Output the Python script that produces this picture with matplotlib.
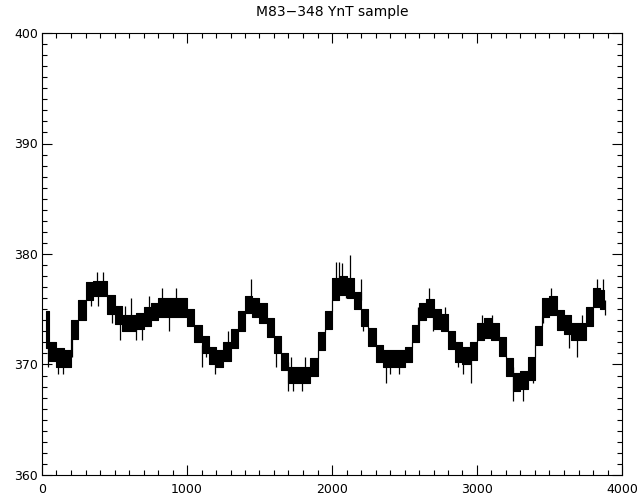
import matplotlib
matplotlib.use("Agg")
import matplotlib.pyplot as plt
import numpy as np
from matplotlib.ticker import MultipleLocator

# band of the sample trace in 50-sample bins
bin_x = np.arange(25, 3900, 50)
band_lo = [371.5, 370.3, 369.8, 369.8, 372.3, 374.0, 375.8, 376.2, 376.2, 374.6,
           373.7, 373.0, 373.0, 373.2, 373.5, 374.0, 374.3, 374.3, 374.3, 374.3,
           373.5, 372.0, 371.0, 370.0, 369.8, 370.3, 371.5, 373.0, 374.7, 374.3,
           373.8, 372.5, 371.0, 369.5, 368.3, 368.3, 368.3, 369.0, 371.3, 373.2,
           375.8, 376.3, 376.0, 375.0, 373.5, 371.7, 370.2, 369.8, 369.8, 369.8,
           370.2, 372.0, 374.0, 374.3, 373.2, 373.0, 371.4, 370.2, 370.0, 370.4,
           372.2, 372.4, 372.2, 370.8, 369.0, 367.6, 367.8, 368.6, 371.8, 374.3,
           374.5, 373.1, 372.8, 372.2, 372.2, 373.5, 375.2, 375.0]
band_hi = [374.8, 372.0, 371.5, 371.3, 374.0, 375.8, 377.5, 377.6, 377.6, 376.3,
           375.3, 374.5, 374.5, 374.7, 375.2, 375.6, 376.0, 376.0, 376.0, 376.0,
           375.0, 373.6, 372.6, 371.6, 371.3, 372.0, 373.2, 374.8, 376.2, 376.0,
           375.6, 374.2, 372.6, 371.0, 369.8, 369.8, 369.8, 370.6, 372.9, 374.8,
           377.8, 378.0, 377.8, 376.6, 375.0, 373.3, 371.8, 371.3, 371.3, 371.3,
           371.6, 373.6, 375.6, 375.9, 375.0, 374.6, 373.0, 372.0, 371.6, 372.0,
           373.8, 374.2, 373.8, 372.5, 370.6, 369.2, 369.4, 370.7, 373.5, 376.0,
           376.2, 374.9, 374.5, 373.8, 373.8, 375.2, 376.9, 376.7]

# single-sample excursions (sample, tip value)
spike_x = [39, 108, 147, 207, 338, 379, 384, 418, 483, 538, 575, 614, 648, 690,
           740, 828, 878, 924, 1103, 1131, 1193, 1280, 1395, 1441, 1614, 1699,
           1717, 1729, 1791, 1816, 2028, 2032, 2051, 2066, 2096, 2124, 2198,
           2216, 2370, 2400, 2464, 2595, 2671, 2699, 2779, 2809, 2871, 2906,
           2956, 3032, 3101, 3246, 3315, 3388, 3457, 3510, 3637, 3692, 3722,
           3825, 3866, 3883]
spike_y = [369.8, 369.1, 369.1, 370.7, 375.3, 378.4, 375.3, 378.4, 373.75, 372.2,
           375.3, 376.0, 372.2, 372.2, 376.2, 376.9, 373.0, 376.9, 369.8, 370.7,
           369.1, 373.0, 373.0, 377.7, 369.8, 367.6, 370.7, 367.6, 367.6, 370.7,
           379.3, 376.0, 379.3, 379.2, 376.0, 379.9, 377.7, 373.0, 368.3, 369.1,
           369.1, 375.2, 376.9, 373.0, 375.2, 371.5, 369.8, 369.1, 368.3, 374.5,
           374.5, 366.7, 366.7, 368.3, 373.8, 376.9, 371.5, 370.7, 374.5, 377.7,
           377.7, 374.5]


def draw():
    fig = plt.figure(figsize=(6.42, 5.01), dpi=100)
    ax = fig.add_axes([42 / 642, 26 / 501, 580 / 642, 442 / 501])

    lo = np.array(band_lo)
    hi = np.array(band_hi)
    ax.fill_between(bin_x, lo, hi, step="mid", color="black", lw=0.8)

    # spikes start from the middle of the band of their bin
    idx = np.clip(np.array(spike_x) // 50, 0, len(bin_x) - 1)
    base = (lo[idx] + hi[idx]) / 2
    ax.vlines(spike_x, base, spike_y, color="black", lw=0.9)

    ax.set_xlim(0, 4000)
    ax.set_ylim(360, 400)
    ax.xaxis.set_major_locator(MultipleLocator(1000))
    ax.xaxis.set_minor_locator(MultipleLocator(100))
    ax.yaxis.set_major_locator(MultipleLocator(10))
    ax.yaxis.set_minor_locator(MultipleLocator(1))

    ax.tick_params(which="both", direction="in", top=True, right=True,
                   width=0.8, labelsize=9, colors="black")
    ax.tick_params(which="major", length=7.5)
    ax.tick_params(which="minor", length=3.8)
    ax.tick_params(axis="x", pad=6)
    ax.tick_params(axis="y", pad=3)
    for s in ax.spines.values():
        s.set_linewidth(0.8)

    ax.set_title("M83\u2212348 YnT sample", fontsize=10, pad=12)

    fig.savefig("out.png", dpi=100)
    plt.close(fig)


if __name__ == "__main__":
    draw()
